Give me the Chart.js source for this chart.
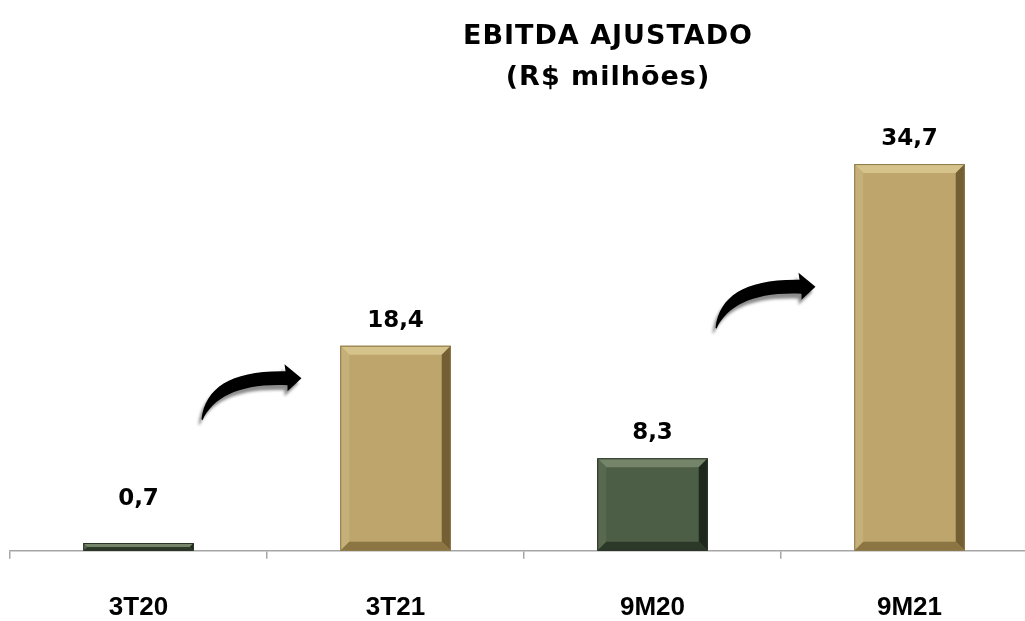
<!DOCTYPE html>
<html>
<head>
<meta charset="utf-8">
<script src="https://cdn.jsdelivr.net/npm/chart.js@4.4.0/dist/chart.umd.min.js"></script>
<style>
  html, body { margin: 0; padding: 0; background: #fff; overflow: hidden; }
  #wrap { width: 1040px; height: 621px; }
</style>
</head>
<body>
<div id="wrap"><canvas id="myChart"></canvas></div>
<script>
// data
const categories = ['3T20', '3T21', '9M20', '9M21'];
const ebitda = [0.7, 18.4, 8.3, 34.7];
const barKinds = ['green', 'tan', 'green', 'tan'];
const titleLines = ['EBITDA AJUSTADO', '(R$ milhões)'];

const FONT = "'DejaVu Sans', sans-serif";
const LABEL_FONT = "'Liberation Sans', Arial, sans-serif";

const palette = {
  green: { base: '#4C5E46', top: '#74856A', left: '#586950', right: '#1E281C', bottom: '#2C3828', edge: '#2A3327' },
  tan:   { base: '#BEA56B', top: '#D6C38C', left: '#C6B079', right: '#735F33', bottom: '#8A7543', edge: '#8C784A' }
};

function fmt(v) {
  return v.toFixed(1).replace('.', ',');
}

// title drawn as text, a bit right of center like the original
const titlePlugin = {
  id: 'titleText',
  afterDraw(chart) {
    const ctx = chart.ctx;
    ctx.save();
    ctx.fillStyle = '#000';
    ctx.font = 'bold 27px ' + FONT;
    ctx.letterSpacing = '1px';
    ctx.textAlign = 'center';
    ctx.textBaseline = 'middle';
    ctx.fillText(titleLines[0], 608, 37);
    ctx.fillText(titleLines[1], 608, 78);
    ctx.restore();
  }
};

// bevel look of the bars
const bevelPlugin = {
  id: 'bevel',
  afterDatasetsDraw(chart) {
    const ctx = chart.ctx;
    const meta = chart.getDatasetMeta(0);
    meta.data.forEach(function(bar, i) {
      const p = bar.getProps(['x', 'y', 'base', 'width'], true);
      const c = palette[barKinds[i]];
      const l = p.x - p.width / 2, r = p.x + p.width / 2, t = p.y, b = p.base;
      const d = Math.min(9, (b - t) / 2);
      ctx.save();
      function quad(pts, col) {
        ctx.beginPath();
        ctx.moveTo(pts[0][0], pts[0][1]);
        for (let k = 1; k < pts.length; k++) ctx.lineTo(pts[k][0], pts[k][1]);
        ctx.closePath();
        ctx.fillStyle = col;
        ctx.fill();
      }
      quad([[l, t], [r, t], [r - d, t + d], [l + d, t + d]], c.top);
      quad([[l, t], [l + d, t + d], [l + d, b - d], [l, b]], c.left);
      quad([[r, t], [r, b], [r - d, b - d], [r - d, t + d]], c.right);
      quad([[l, b], [l + d, b - d], [r - d, b - d], [r, b]], c.bottom);
      ctx.strokeStyle = c.edge;
      ctx.lineWidth = 1;
      ctx.strokeRect(l + 0.5, t + 0.5, p.width - 1, b - t - 1);
      ctx.restore();
    });
  }
};

// value labels above bars
const valuePlugin = {
  id: 'values',
  afterDatasetsDraw(chart) {
    const ctx = chart.ctx;
    const meta = chart.getDatasetMeta(0);
    ctx.save();
    ctx.fillStyle = '#000';
    ctx.font = 'bold 23px ' + FONT;
    ctx.textAlign = 'center';
    ctx.textBaseline = 'middle';
    meta.data.forEach(function(bar, i) {
      const p = bar.getProps(['x', 'y', 'base'], true);
      const y = Math.min(p.y - 25, p.base - 52);
      ctx.fillText(fmt(ebitda[i]), p.x, y);
    });
    ctx.restore();
  }
};

// curved growth arrows between the pairs
const arrowPlugin = {
  id: 'arrows',
  afterDatasetsDraw(chart, args, opts) {
    const ctx = chart.ctx;
    const xs = chart.scales.x, ys = chart.scales.y;
    opts.items.forEach(function(a) {
      const x0 = xs.getPixelForValue(a.from) + 63;
      const y0 = ys.getPixelForValue(a.level);
      ctx.save();
      ctx.translate(x0, y0);
      ctx.beginPath();
      ctx.moveTo(0, 1);
      ctx.bezierCurveTo(4, -31, 30, -48, 84, -47);
      ctx.lineTo(83, -54);
      ctx.lineTo(100, -40);
      ctx.lineTo(86, -27);
      ctx.lineTo(86, -33);
      ctx.bezierCurveTo(40, -35, 12, -22, 1, 2);
      ctx.closePath();
      ctx.shadowColor = 'rgba(0,0,0,0.45)';
      ctx.shadowOffsetX = -3;
      ctx.shadowOffsetY = 5;
      ctx.shadowBlur = 3;
      ctx.fillStyle = '#000';
      ctx.fill();
      ctx.restore();
    });
  }
};

var config = {
  type: 'bar',
  data: {
    labels: categories,
    datasets: [{
      data: ebitda,
      backgroundColor: barKinds.map(k => palette[k].base),
      borderWidth: 0,
      categoryPercentage: 1,
      barPercentage: 0.43
    }]
  },
  options: {
    responsive: true,
    maintainAspectRatio: false,
    animation: false,
    layout: { padding: { left: 10, right: 2, top: 105, bottom: -35 } },
    plugins: {
      legend: { display: false },
      title: { display: false },
      tooltip: { enabled: false },
      arrows: { items: [{ from: 0, level: 11.9 }, { from: 2, level: 20.1 }] }
    },
    scales: {
      x: {
        grid: { display: true, drawOnChartArea: false, offset: true, tickLength: 8, color: '#A6A6A6', lineWidth: 1.5 },
        border: { display: true, color: '#A6A6A6', width: 1.5 },
        ticks: { color: '#000', padding: 33, font: { family: LABEL_FONT, size: 26, weight: 'bold' } }
      },
      y: {
        display: false,
        min: 0,
        max: 40
      }
    }
  },
  plugins: [bevelPlugin, valuePlugin, arrowPlugin, titlePlugin]
};

var ctx = document.getElementById('myChart').getContext('2d');
window.myBar = new Chart(ctx, config);
</script>
</body>
</html>
